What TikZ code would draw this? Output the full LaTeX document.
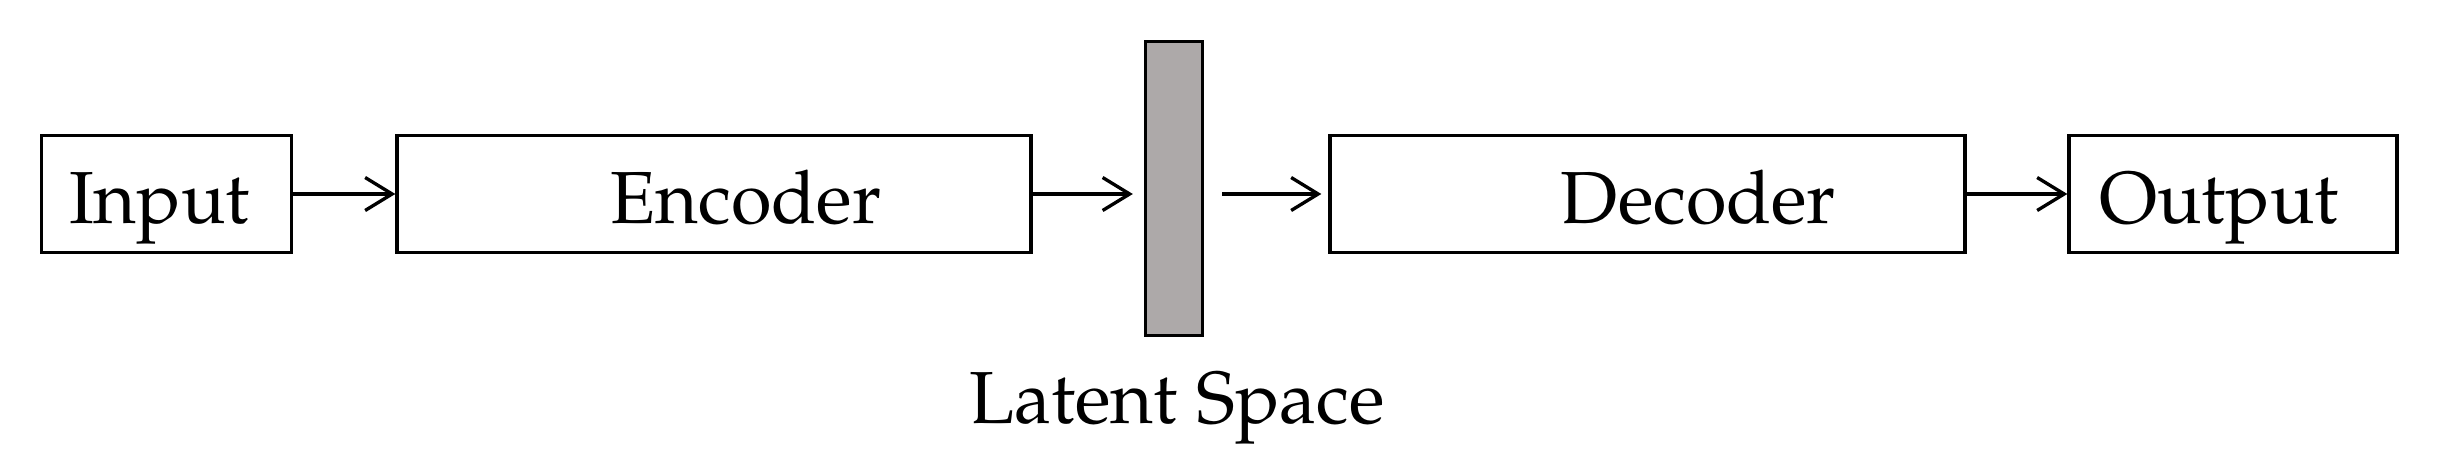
\documentclass[tikz,border=0pt]{standalone}
\usepackage[T1]{fontenc}
\usepackage{mathpazo}
\usetikzlibrary{arrows.meta}
\definecolor{latentgray}{RGB}{173,169,169}
\tikzset{
  blk/.style={draw=black, line width=0.95pt, rectangle, inner sep=0pt,
    minimum height=1.17cm, text height=0.6cm, text depth=0cm,
    font=\fontsize{21pt}{25pt}\selectfont},
  latentbar/.style={draw=black, line width=0.95pt, fill=latentgray, rectangle,
    inner sep=0pt, minimum width=0.57cm, minimum height=2.94cm},
  lbl/.style={inner sep=0pt, anchor=base, font=\fontsize{21pt}{25pt}\selectfont},
  conn/.style={draw=black, line width=0.95pt, -{Straight Barb[length=0.27cm,width=0.33cm,line width=0.95pt]}}
}
\begin{document}
\begin{tikzpicture}
\useasboundingbox (0,0) rectangle (24.37,-4.71);
\node[blk, minimum width=2.50cm] (in) at (1.665,-1.94) {Input\hspace*{0.14cm}};
\node[blk, minimum width=6.34cm] (enc) at (7.14,-1.94) {\hspace*{0.64cm}Encoder};
\node[latentbar] (lat) at (11.74,-1.885) {};
\node[blk, minimum width=6.35cm] (dec) at (16.475,-1.94) {\hspace*{1.02cm}Decoder};
\node[blk, minimum width=3.28cm] (out) at (22.33,-1.94) {Output\hspace*{0.28cm}};
\node[lbl] (ls) at (11.77,-4.23) {Latent Space};
\draw[conn] (in.east) -- (enc.west);
\draw[conn, shorten >=0.11cm] (enc.east) -- (enc.east -| lat.west);
\draw[conn, shorten <=0.18cm, shorten >=0.07cm] (dec.west -| lat.east) -- (dec.west);
\draw[conn] (dec.east) -- (out.west);
\end{tikzpicture}
\end{document}
